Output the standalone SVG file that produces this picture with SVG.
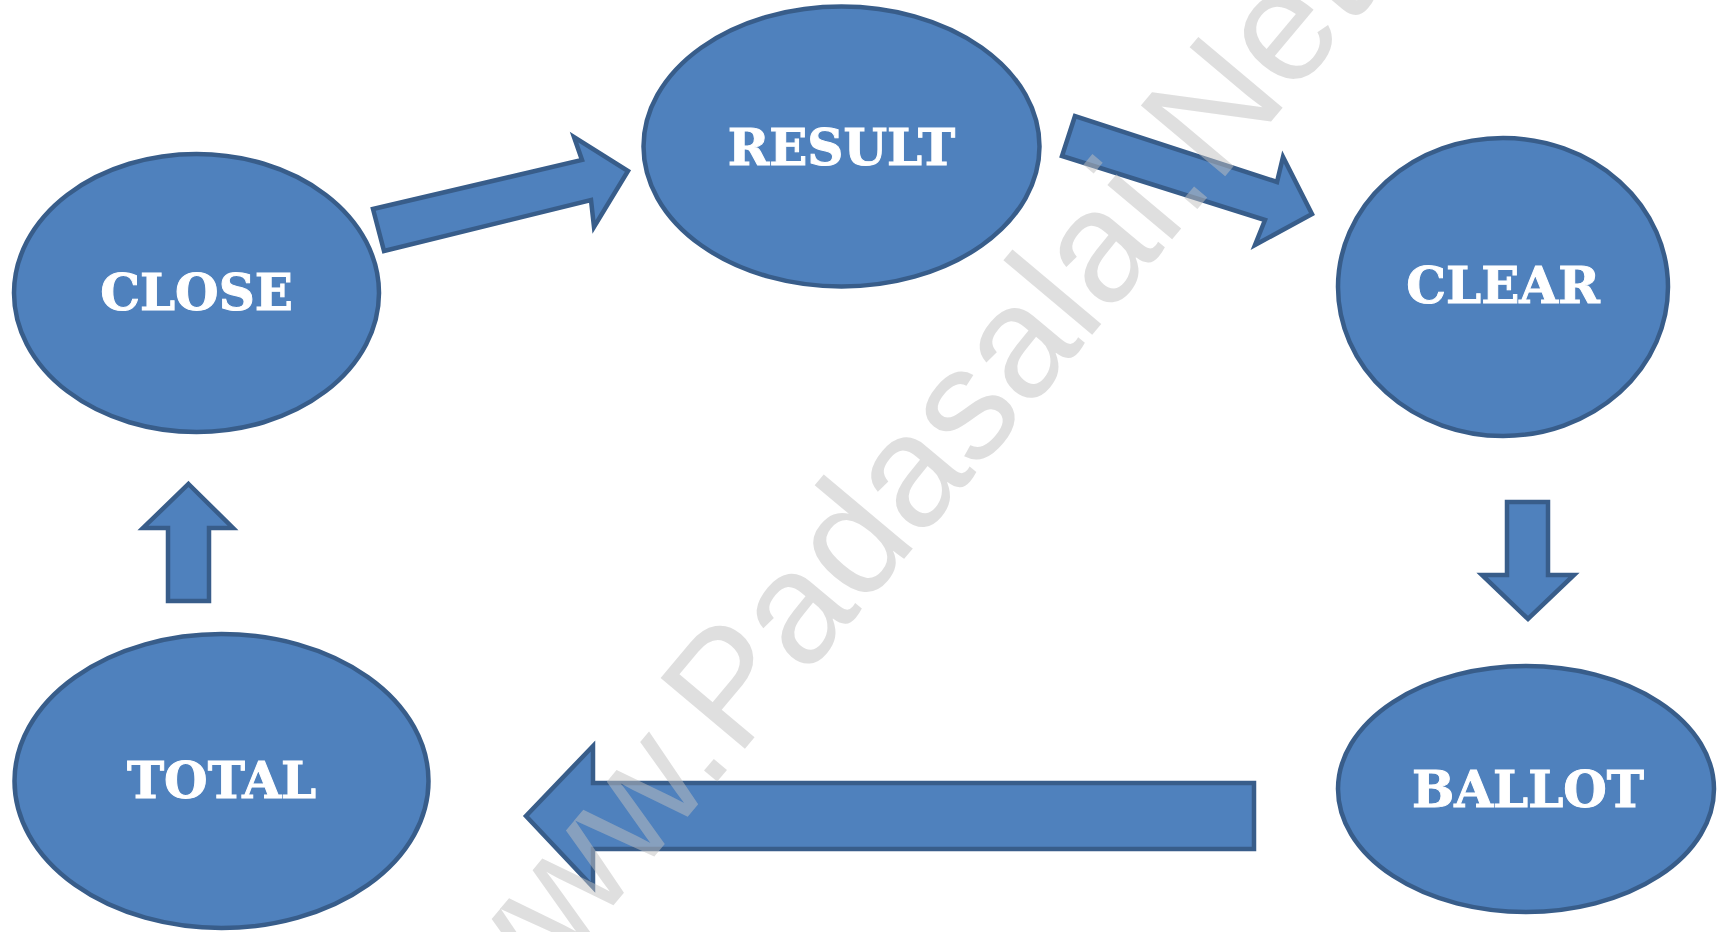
<svg xmlns="http://www.w3.org/2000/svg" width="1717" height="932" viewBox="0 0 1717 932">
<style>
.node{fill:#4F81BD;stroke:#385D8A;stroke-width:4.5}
.arrow{fill:#4F81BD;stroke:#385D8A;stroke-width:4.5;stroke-linejoin:miter;stroke-miterlimit:10}
.lbl{font-family:"DejaVu Serif","Liberation Serif",serif;font-weight:bold;font-size:50px;fill:#FFFFFF;stroke:#FFFFFF;stroke-width:1;text-anchor:middle}
.wm{font-family:"Liberation Sans",Arial,sans-serif;font-size:160px;fill:#BFBFBF;fill-opacity:0.5}
</style>
<rect width="1717" height="932" fill="#FFFFFF"/>
<g id="close"><ellipse class="node" cx="196.5" cy="293" rx="182.5" ry="139"/><text class="lbl" x="196.5" y="310">CLOSE</text></g>
<g id="result"><ellipse class="node" cx="841.5" cy="146.5" rx="198" ry="140"/><text class="lbl" x="841.5" y="165">RESULT</text></g>
<g id="clear"><ellipse class="node" cx="1503" cy="287" rx="165" ry="149"/><text class="lbl" x="1503" y="303">CLEAR</text></g>
<g id="ballot"><ellipse class="node" cx="1526" cy="789" rx="188" ry="123"/><text class="lbl" x="1528" y="807">BALLOT</text></g>
<g id="total"><ellipse class="node" cx="221.5" cy="781" rx="207" ry="147"/><text class="lbl" x="221.5" y="798">TOTAL</text></g>
<g id="connectors">
<polygon class="arrow" points="384,251 373,209 582,160 574,137 628,171 594,227 591,200"/>
<polygon class="arrow" points="1075,116 1062,156 1265,220 1255,245 1312,214 1283,157 1277,182"/>
<polygon class="arrow" points="1507,502 1548,502 1548,575 1574,575 1528,619 1482,575 1507,575"/>
<polygon class="arrow" points="1254,783 1254,849 593,849 593,887 526,816 593,746 593,783"/>
<polygon class="arrow" points="188.5,484 233,528 209,528 209,601 168,601 168,528 143,528"/>
</g>
<text class="wm" transform="translate(742 752) rotate(-50)" x="-391" y="0">www.Padasalai.Net</text>
</svg>
